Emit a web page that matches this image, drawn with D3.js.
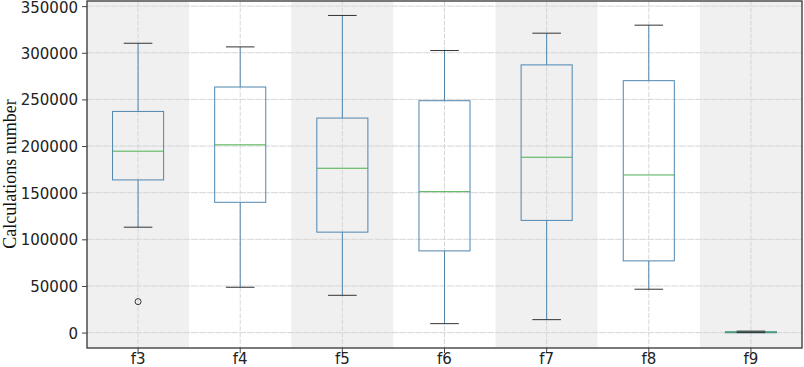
<!DOCTYPE html>
<html>
<head>
<meta charset="utf-8">
<script src="https://cdn.jsdelivr.net/npm/d3@7"></script>
<style>
  body { margin: 0; background: #fff; }
  .tick text { font-family: "DejaVu Sans", sans-serif; font-size: 15px; fill: #222; }
  .y-label { font-family: "Liberation Serif", "Times New Roman", serif; font-size: 18px; fill: #111; }
</style>
</head>
<body>
<div id="wrapper"></div>
<script>
// data
const categories = ["f3", "f4", "f5", "f6", "f7", "f8", "f9"];
const whiskerLow = [113000, 48600, 40000, 9600, 13900, 46500, 0];
const q1Values = [163700, 139700, 107700, 87600, 120300, 76900, 300];
const medianValues = [194500, 201300, 176200, 151100, 188000, 169000, 600];
const q3Values = [237100, 263300, 230000, 248600, 287000, 270100, 900];
const whiskerHigh = [310200, 306300, 340000, 302400, 321000, 329600, 1600];
const outliers = [{ cat: "f3", value: 33200 }];
const yTicks = [0, 50000, 100000, 150000, 200000, 250000, 300000, 350000];

function draw() {
    const dimensions = {
        width: 804,
        height: 367,
        margin: { top: 1, right: 2, bottom: 19, left: 87 },
    };
    dimensions.boundedWidth = dimensions.width - dimensions.margin.left - dimensions.margin.right;
    dimensions.boundedHeight = dimensions.height - dimensions.margin.top - dimensions.margin.bottom;

    const boxes = categories.map((c, i) => ({
        cat: c,
        low: whiskerLow[i],
        q1: q1Values[i],
        med: medianValues[i],
        q3: q3Values[i],
        high: whiskerHigh[i],
    }));

    const wrapper = d3.select("#wrapper")
        .append("svg")
        .attr("width", dimensions.width)
        .attr("height", dimensions.height);

    const bounds = wrapper.append("g")
        .attr("transform", `translate(${dimensions.margin.left},${dimensions.margin.top})`);

    // scales
    const xScale = d3.scaleBand()
        .domain(categories)
        .range([0, dimensions.boundedWidth])
        .padding(0);
    const yScale = d3.scaleLinear()
        .domain([-16500, 355500])
        .range([dimensions.boundedHeight, 0]);

    // alternating background bands
    bounds.selectAll(".band")
        .data(categories)
        .enter().append("rect")
        .attr("class", "band")
        .attr("x", d => xScale(d))
        .attr("y", 0)
        .attr("width", xScale.bandwidth())
        .attr("height", dimensions.boundedHeight)
        .attr("fill", (d, i) => i % 2 === 0 ? "#f0f0f0" : "#ffffff");

    // grid
    bounds.selectAll(".hgrid")
        .data(yTicks)
        .enter().append("line")
        .attr("x1", 0).attr("x2", dimensions.boundedWidth)
        .attr("y1", d => yScale(d)).attr("y2", d => yScale(d))
        .attr("stroke", "#d6d6d6").attr("stroke-width", 1)
        .attr("stroke-dasharray", "7,1");
    bounds.selectAll(".vgrid")
        .data(categories)
        .enter().append("line")
        .attr("x1", d => xScale(d) + xScale.bandwidth() / 2)
        .attr("x2", d => xScale(d) + xScale.bandwidth() / 2)
        .attr("y1", 0).attr("y2", dimensions.boundedHeight)
        .attr("stroke", "#d6d6d6").attr("stroke-width", 1)
        .attr("stroke-dasharray", "5,1.5");

    // boxes
    const boxWidth = xScale.bandwidth() * 0.5;
    const capWidth = xScale.bandwidth() * 0.28;
    const boxColor = "#4f86b0";
    const groups = bounds.selectAll(".box")
        .data(boxes)
        .enter().append("g")
        .attr("class", "box")
        .attr("transform", d => `translate(${xScale(d.cat) + xScale.bandwidth() / 2},0)`);

    groups.append("line")
        .attr("x1", 0).attr("x2", 0)
        .attr("y1", d => yScale(d.high)).attr("y2", d => yScale(d.q3))
        .attr("stroke", boxColor);
    groups.append("line")
        .attr("x1", 0).attr("x2", 0)
        .attr("y1", d => yScale(d.q1)).attr("y2", d => yScale(d.low))
        .attr("stroke", boxColor);
    groups.append("rect")
        .attr("x", -boxWidth / 2)
        .attr("width", boxWidth)
        .attr("y", d => yScale(d.q3))
        .attr("height", d => Math.max(1, yScale(d.q1) - yScale(d.q3)))
        .attr("fill", "none")
        .attr("stroke", boxColor);
    groups.append("line")
        .attr("x1", -boxWidth / 2).attr("x2", boxWidth / 2)
        .attr("y1", d => yScale(d.med)).attr("y2", d => yScale(d.med))
        .attr("stroke", "#4caf50");
    groups.selectAll(".cap")
        .data(d => [d.low, d.high])
        .enter().append("line")
        .attr("x1", -capWidth / 2).attr("x2", capWidth / 2)
        .attr("y1", d => yScale(d)).attr("y2", d => yScale(d))
        .attr("stroke", "#333");

    // outliers
    bounds.selectAll(".outlier")
        .data(outliers)
        .enter().append("circle")
        .attr("cx", d => xScale(d.cat) + xScale.bandwidth() / 2)
        .attr("cy", d => yScale(d.value))
        .attr("r", 3)
        .attr("fill", "none")
        .attr("stroke", "#333");

    // axes
    const yAxis = d3.axisLeft(yScale).tickValues(yTicks).tickFormat(d3.format("d")).tickSize(5).tickPadding(4);
    const yAxisGroup = bounds.append("g").call(yAxis);
    yAxisGroup.select(".domain").remove();
    yAxisGroup.selectAll(".tick line").attr("stroke", "#444");
    // nudge labels a touch down so the top one is not clipped by the page edge
    yAxisGroup.selectAll(".tick text").attr("dy", (d, i) => i === yTicks.length - 1 ? "0.45em" : "0.36em");

    const xAxis = d3.axisBottom(xScale).tickSize(5).tickPadding(1);
    const xAxisGroup = bounds.append("g")
        .attr("transform", `translate(0,${dimensions.boundedHeight})`)
        .call(xAxis);
    xAxisGroup.select(".domain").remove();
    xAxisGroup.selectAll(".tick line").attr("stroke", "#444");
    xAxisGroup.selectAll(".tick text").attr("dy", "0.68em");

    // frame
    bounds.append("rect")
        .attr("x", 0).attr("y", 0)
        .attr("width", dimensions.boundedWidth)
        .attr("height", dimensions.boundedHeight)
        .attr("fill", "none")
        .attr("stroke", "#333")
        .attr("stroke-width", 1.3);

    wrapper.append("text")
        .attr("class", "y-label")
        .attr("transform", `translate(16,${dimensions.margin.top + yScale(170000)}) rotate(-90)`)
        .attr("text-anchor", "middle")
        .text("Calculations number");
}

draw();
</script>
</body>
</html>
